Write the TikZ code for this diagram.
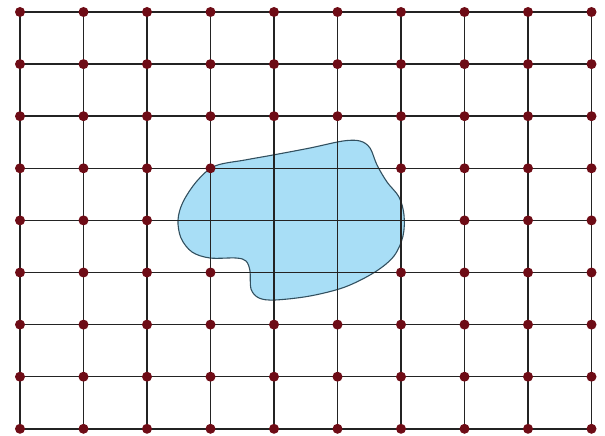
\documentclass[tikz,border=0pt]{standalone}
\usepackage{tikz}
\definecolor{dotred}{RGB}{110,12,22}
\definecolor{blobfill}{RGB}{168,222,246}
\definecolor{blobline}{RGB}{50,80,95}
\definecolor{gridline}{RGB}{35,35,35}
\tikzset{
  gridln/.style={draw=gridline, line width=1.5pt},
  gdot/.style={circle, fill=dotred, minimum size=10pt, inner sep=0pt},
  blob/.style={fill=blobfill, draw=blobline, line width=1.1pt}
}
\begin{document}
\begin{tikzpicture}[x=1pt,y=1pt]
\useasboundingbox (0,0) rectangle (605,-436);
% grid coordinates
\foreach \i in {0,...,9}{
  \foreach \j in {0,...,8}{
    \coordinate (p-\i-\j) at ({20+63.5*\i},{-(12+52.1*\j)});
  }
}
% lake
\draw[blob] plot[smooth cycle, tension=0.55] coordinates {
 (215,-166) (245,-160) (273,-155) (310,-148) (343,-141) (360,-141)
 (370,-148) (377,-165) (387,-182) (399,-197) (404,-215) (403,-236)
 (394,-256) (375,-272) (345,-287) (310,-296) (275,-300) (259,-298)
 (251,-289) (250,-271) (246,-261) (236,-258) (210,-258) (192,-252)
 (181,-238) (178,-220) (183,-202) (197,-181)};
% grid lines
\foreach \i in {0,...,9}{ \draw[gridln] (p-\i-0) -- (p-\i-8); }
\foreach \j in {0,...,8}{ \draw[gridln] (p-0-\j) -- (p-9-\j); }
% dots
\foreach \i in {0,...,9}{
  \foreach \j in {0,...,8}{
    \pgfmathtruncatemacro{\skip}{
      ((\j==3 || \j==5) && (\i==4 || \i==5)) || (\j==4 && \i>=3 && \i<=6) ? 1 : 0}
    \ifnum\skip=0
      \node[gdot] (d-\i-\j) at (p-\i-\j) {};
    \fi
  }
}
\end{tikzpicture}
\end{document}
